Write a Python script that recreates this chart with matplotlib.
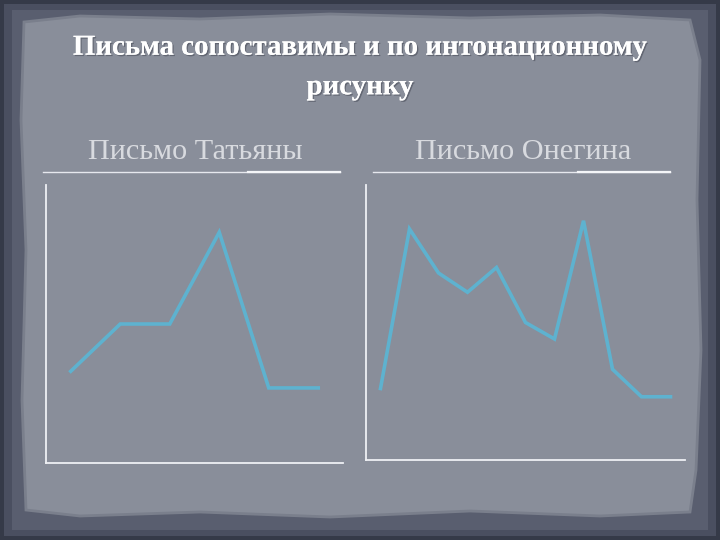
import matplotlib
matplotlib.use("Agg")
import matplotlib.pyplot as plt
from matplotlib.patches import Polygon, Rectangle
import matplotlib.patheffects as pe

title_text = "Письма сопоставимы и по интонационному\nрисунку"
left_title = "Письмо Татьяны"
right_title = "Письмо Онегина"

tatiana_values = [3.3, 5.0, 5.0, 8.3, 2.7, 2.7]
onegin_values = [2.6, 8.4, 6.8, 6.1, 7.0, 5.0, 4.4, 8.7, 3.3, 2.3, 2.3]

W, H = 720, 540
fig = plt.figure(figsize=(7.2, 5.4), dpi=100)
fig.patch.set_facecolor("#353a48")

# background layer in pixel coordinates
bg = fig.add_axes([0, 0, 1, 1])
bg.set_xlim(0, W)
bg.set_ylim(H, 0)
bg.axis("off")
bg.add_patch(Rectangle((4, 4), W - 8, H - 8, facecolor="#4a4f60", edgecolor="none"))
bg.add_patch(Rectangle((12, 10), W - 24, H - 20, facecolor="#595e6f", edgecolor="none"))
paper = [(24, 22), (80, 16), (200, 19), (330, 14), (470, 18), (600, 15), (690, 20),
         (700, 60), (697, 200), (701, 350), (696, 470), (690, 512), (600, 516),
         (470, 511), (330, 517), (200, 512), (80, 516), (26, 510), (22, 400),
         (26, 250), (21, 120)]
bg.add_patch(Polygon(paper, closed=True, facecolor="#898e9a", edgecolor="#7a7f8c", lw=2))

fam = ["Liberation Serif", "DejaVu Serif"]
shadow = [pe.withSimplePatchShadow(offset=(1, -1), shadow_rgbFace="#4a4e5a", alpha=0.6), pe.Normal()]
bg.text(360, 67, title_text, ha="center", va="center", fontsize=20.8, color="white",
        family=fam, fontweight="bold", linespacing=1.6, path_effects=shadow)
bg.text(195, 152, left_title, ha="center", va="center", fontsize=21.8, color="#d8dadf",
        family=fam)
bg.text(523, 152, right_title, ha="center", va="center", fontsize=21.8, color="#d8dadf",
        family=fam)

# header rules
for x0, x1, xb in [(43, 340, 248), (373, 670, 578)]:
    bg.plot([x0, x1], [172, 172], color="#e6e8ee", lw=1.0)
    bg.plot([xb, x1], [172, 172], color="#f4f5f8", lw=1.6)


def chart(rect, values):
    ax = fig.add_axes(rect)
    ax.set_facecolor("none")
    ax.plot(range(len(values)), values, color="#5eb2cf", lw=2.6, solid_joinstyle="miter")
    ax.set_xlim(-0.5, len(values) - 0.5)
    ax.set_ylim(0, 10)
    for s in ["top", "right"]:
        ax.spines[s].set_visible(False)
    for s in ["left", "bottom"]:
        ax.spines[s].set_color("#eef0f4")
        ax.spines[s].set_linewidth(1.3)
    ax.set_xticks([])
    ax.set_yticks([])
    return ax


chart([46 / W, 1 - 463 / H, 297 / W, 278 / H], tatiana_values)
chart([366 / W, 1 - 460 / H, 319 / W, 275 / H], onegin_values)

fig.savefig("out.png", dpi=100)
